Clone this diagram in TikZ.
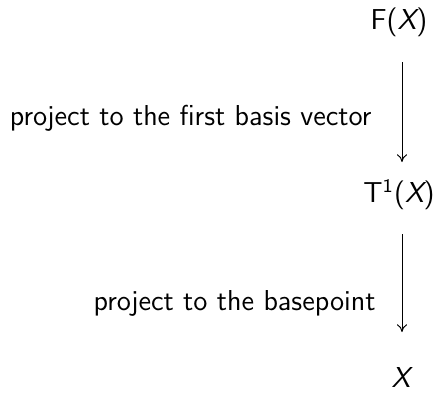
\documentclass[tikz,border=0pt]{standalone}
\usetikzlibrary{arrows.meta}
\begin{document}
\begin{tikzpicture}[x=0.4163pt,y=-0.4163pt,
  every node/.style={font=\sffamily\fontsize{12}{14.4}\selectfont, inner sep=0pt},
  obj/.style={anchor=center},
  lbl/.style={anchor=east},
  map/.style={-{To[length=3.2pt,width=4.2pt]}, line width=0.4pt}]
\useasboundingbox (0,0) rectangle (442,412);
\node[obj] (F) at (399,22) {F({\slshape X})};
\node[obj] (T) at (399,195) {T$^{\mathsf{1}}$({\slshape X})};
\node[obj] (X) at (401,377) {{\slshape X}};
\coordinate (a1) at (402,62);
\coordinate (b1) at (402,162);
\coordinate (a2) at (402,234);
\coordinate (b2) at (402,332);
\draw[map] (a1) -- (b1);
\draw[map] (a2) -- (b2);
\node[lbl] (l1) at (372,118) {project to the first basis vector};
\node[lbl] (l2) at (376,303) {project to the basepoint};
\end{tikzpicture}
\end{document}
